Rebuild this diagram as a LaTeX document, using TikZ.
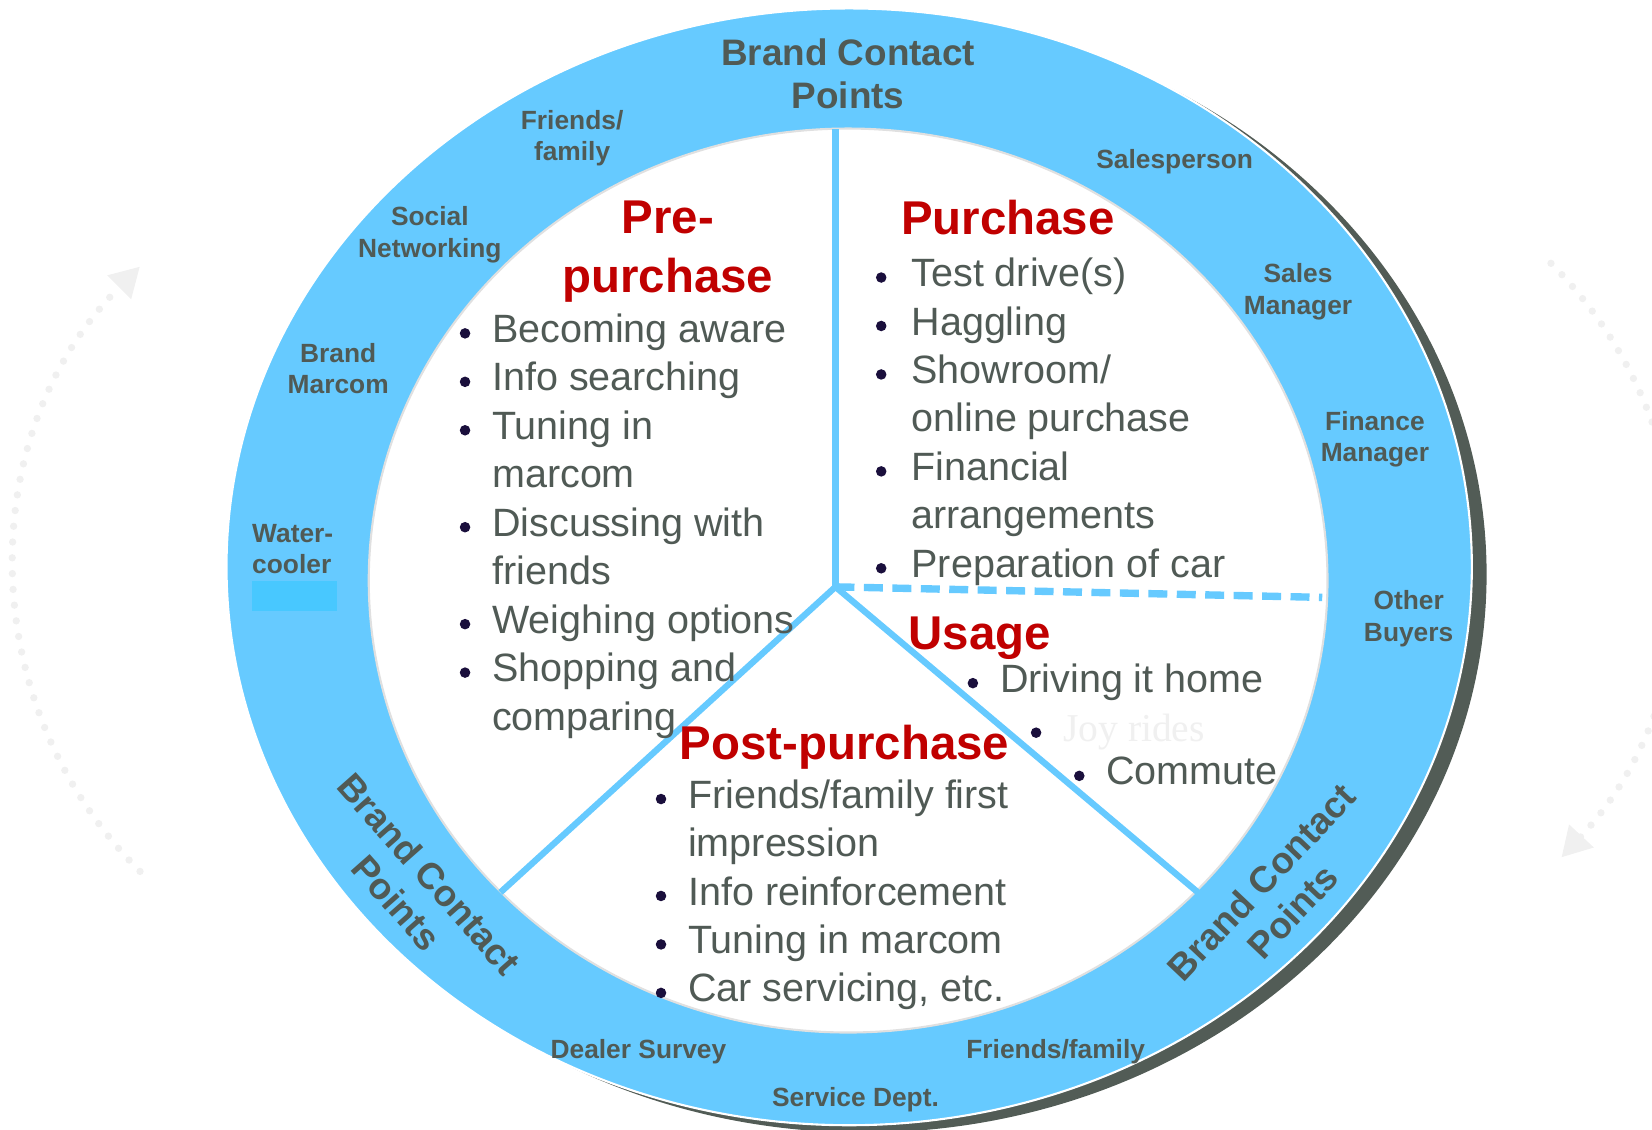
\documentclass[tikz,border=0pt]{standalone}
\usepackage{fontspec}
\setmainfont{Liberation Sans}
\newfontfamily\serifo{Liberation Serif}
\usepackage{tikz}
\usetikzlibrary{positioning}
\usetikzlibrary{arrows.meta}

\definecolor{anello}{HTML}{66CAFF}
\definecolor{ombra}{HTML}{525C56}
\definecolor{scuro}{HTML}{505A55}
\definecolor{rosso}{HTML}{C00000}
\definecolor{puntino}{HTML}{1A0F3C}
\definecolor{grigino}{HTML}{F0F0F0}
\definecolor{acqua}{HTML}{48C8FF}

\newcommand{\pallino}{\tikz[baseline=-4.3pt]\fill[puntino] (0,0) circle (2.5pt);}

\tikzset{
  etichetta/.style={font=\bfseries\fontsize{12.5}{15}\selectfont, text=scuro, align=center, inner sep=0pt},
  contatti/.style={font=\bfseries\fontsize{17.5}{20.5}\selectfont, text=scuro, align=center, inner sep=0pt},
  titolo/.style={font=\bfseries\fontsize{22.5}{27}\selectfont, text=rosso, inner sep=0pt, text height=16pt, text depth=5pt},
  lista/.style={font=\fontsize{18.75}{23}\selectfont, text=scuro, inner sep=0pt, anchor=base west},
  divisore/.style={draw=anello, line width=3pt},
  freccia/.style={draw=grigino, line width=3.5pt, line cap=round, dash pattern=on 0pt off 7.5pt, -{Triangle[length=14pt,width=15pt]}}
}

\begin{document}
\begin{tikzpicture}[x=0.5pt, y=-0.5pt]
  \useasboundingbox (0,0) rectangle (1568,1072);

  % frecce tratteggiate ai lati
  \draw[freccia] (420,540) ++(135:406) arc[start angle=135, end angle=225, radius=406];
  \draw[freccia] (1185,537) ++(-45:406) arc[start angle=-45, end angle=43, radius=406];

  % anello dei punti di contatto
  \fill[ombra] (820,545) ellipse [x radius=591, y radius=530];
  \draw[white, line width=1pt, fill=anello] (806,538) ellipse [x radius=591, y radius=530];
  \draw[black!12, line width=1pt, fill=white] (805,551) ellipse [x radius=455, y radius=429];

  % settori
  \coordinate (hub) at (793,557);
  \coordinate (alto) at (793,122);
  \coordinate (destra) at (1255,567);
  \coordinate (sx) at (475,847);
  \coordinate (dx) at (1137,847);
  \draw[divisore] (hub) -- (alto);
  \draw[divisore] (hub) -- (sx);
  \draw[divisore] (hub) -- (dx);
  \draw[divisore, line width=3.5pt, dash pattern=on 9pt off 4.5pt] (hub) -- (destra);

  % etichette sull'anello
  \node[contatti] (bcp1) at (805,70) {Brand Contact\\Points};
  \node[contatti, rotate=-48.5] (bcp2) at (392,843) {Brand Contact\\Points};
  \node[contatti, rotate=46.6] (bcp3) at (1212,851) {Brand Contact\\Points};
  \node[etichetta] (amici) at (543,131) {Friends/\\family};
  \node[etichetta] (social) at (408,223) {Social\\Networking};
  \node[etichetta] (marcom) at (321,350) {Brand\\Marcom};
  \node[etichetta, align=left, anchor=west] (acqua) at (239,521) {Water-\\cooler};
  \fill[acqua] (239,551) rectangle (320,580);
  \node[etichetta] (venditore) at (1115,153) {Salesperson};
  \node[etichetta] (vendite) at (1232,277) {Sales\\Manager};
  \node[etichetta] (finanza) at (1305,417) {Finance\\Manager};
  \node[etichetta] (altri) at (1337,587) {Other\\Buyers};
  \node[etichetta] (sondaggio) at (606,998) {Dealer Survey};
  \node[etichetta] (assistenza) at (812,1044) {Service Dept.};
  \node[etichetta] (famiglia) at (1002,998) {Friends/family};

  % Pre-purchase
  \node[titolo, anchor=base] (pre) at (634,222) {Pre-};
  \node[titolo, below=6.5pt of pre] (pre2) {purchase};
  \node[lista] (lpre) at (436,325) {\begin{tabular}[t]{@{}l@{\hspace{10.4pt}}l@{}}
    \pallino & Becoming aware\\
    \pallino & Info searching\\
    \pallino & Tuning in\\
             & marcom\\
    \pallino & Discussing with\\
             & friends\\
    \pallino & Weighing options\\
    \pallino & Shopping and\\
             & comparing
  \end{tabular}};

  % Purchase
  \node[titolo, anchor=base west] (acq) at (855,223) {Purchase};
  \node[lista] (lacq) at (831,272) {\begin{tabular}[t]{@{}l@{\hspace{11.9pt}}l@{}}
    \pallino & Test drive(s)\\
    \pallino & Haggling\\
    \pallino & Showroom/\\
             & online purchase\\
    \pallino & Financial\\
             & arrangements\\
    \pallino & Preparation of car
  \end{tabular}};

  % Usage
  \node[titolo, anchor=base west] (uso) at (862,616) {Usage};
  \node[lista] (guida) at (918,657) {\pallino\hspace{10.4pt}Driving it home};
  \node[lista] (svago) at (978,704) {\pallino\hspace{10.4pt}{\serifo\color{grigino}Joy rides}};
  \node[lista] (tragitto) at (1019,745) {\pallino\hspace{10.4pt}Commute};

  % Post-purchase
  \node[titolo, anchor=base west] (post) at (645,721) {Post-purchase};
  \node[lista] (lpost) at (622,767) {\begin{tabular}[t]{@{}l@{\hspace{10.4pt}}l@{}}
    \pallino & Friends/family first\\
             & impression\\
    \pallino & Info reinforcement\\
    \pallino & Tuning in marcom\\
    \pallino & Car servicing, etc.
  \end{tabular}};
\end{tikzpicture}
\end{document}
